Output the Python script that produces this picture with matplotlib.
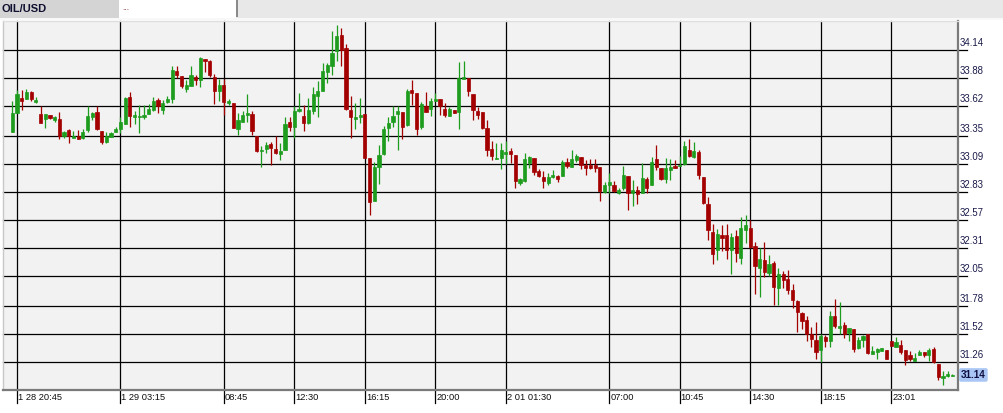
import numpy as np
import matplotlib.pyplot as plt
from matplotlib.patches import Rectangle

plt.rcParams["font.family"] = ["Liberation Sans", "DejaVu Sans"]

# ---- data: 15-minute OIL/USD candles ----
opens = [
    33.38, 33.56, 33.70, 33.69, 33.75, 33.66, 33.55, 33.50, 33.54, 33.49,
    33.50, 33.35, 33.40, 33.33, 33.35, 33.33, 33.40, 33.52, 33.57, 33.39,
    33.29, 33.34, 33.38, 33.41, 33.46, 33.71, 33.52, 33.52, 33.52, 33.55,
    33.59, 33.68, 33.59, 33.66, 33.69, 33.95, 33.90, 33.78, 33.81, 33.89,
    33.86, 34.06, 34.04, 33.89, 33.76, 33.82, 33.65, 33.65, 33.41, 33.48,
    33.54, 33.55, 33.35, 33.21, 33.23, 33.27, 33.23, 33.18, 33.22, 33.48,
    33.43, 33.58, 33.53, 33.47, 33.58, 33.72, 33.76, 33.94, 33.99, 34.13,
    34.28, 34.16, 33.59, 33.50, 33.52, 33.55, 33.14, 32.75, 33.06, 33.18,
    33.42, 33.48, 33.55, 33.57, 33.45, 33.77, 33.74, 33.43, 33.62, 33.60,
    33.67, 33.69, 33.60, 33.53, 33.59, 33.57, 33.87, 33.88, 33.73, 33.58,
    33.57, 33.42, 33.23, 33.13, 33.14, 33.18, 33.21, 33.17, 32.91, 32.93,
    33.10, 33.14, 33.02, 32.97, 32.91, 32.97, 32.98, 32.98, 33.11, 33.06,
    33.12, 33.15, 33.08, 33.08, 33.08, 33.06, 32.83, 32.89, 32.89, 32.82,
    32.87, 32.98, 32.82, 32.85, 32.82, 32.95, 32.89, 33.13, 33.05, 32.95,
    33.03, 33.07, 33.07, 33.09, 33.22, 33.15, 33.20, 32.97, 32.72, 32.46,
    32.29, 32.43, 32.43, 32.29, 32.42, 32.22, 32.48, 32.50, 32.33, 32.13,
    32.20, 32.08, 32.17, 31.94, 32.07, 32.03, 31.92, 31.82, 31.71, 31.65,
    31.52, 31.46, 31.37, 31.49, 31.45, 31.68, 31.57, 31.60, 31.53, 31.56,
    31.39, 31.46, 31.52, 31.33, 31.35, 31.36, 31.37, 31.45, 31.40, 31.42,
    31.37, 31.32, 31.27, 31.32, 31.35, 31.32, 31.38, 31.24, 31.11, 31.13,
    31.13,
]
highs = [
    33.67, 33.77, 33.77, 33.78, 33.76, 33.71, 33.62, 33.55, 33.54, 33.53,
    33.57, 33.39, 33.41, 33.39, 33.40, 33.41, 33.62, 33.57, 33.62, 33.39,
    33.38, 33.38, 33.43, 33.52, 33.71, 33.75, 33.58, 33.63, 33.63, 33.64,
    33.71, 33.70, 33.68, 33.72, 33.99, 33.99, 33.90, 33.86, 33.99, 33.91,
    34.08, 34.06, 34.05, 33.92, 33.87, 33.87, 33.69, 33.65, 33.56, 33.58,
    33.73, 33.58, 33.35, 33.25, 33.29, 33.29, 33.35, 33.28, 33.52, 33.52,
    33.62, 33.74, 33.63, 33.70, 33.80, 33.85, 34.02, 34.02, 34.32, 34.37,
    34.34, 34.20, 33.72, 33.65, 33.70, 33.55, 33.14, 33.11, 33.26, 33.44,
    33.52, 33.62, 33.62, 33.57, 33.78, 33.86, 33.74, 33.66, 33.75, 33.70,
    33.74, 33.69, 33.65, 33.61, 33.59, 34.03, 34.04, 33.88, 33.73, 33.61,
    33.57, 33.49, 33.30, 33.28, 33.28, 33.30, 33.24, 33.17, 32.96, 33.19,
    33.16, 33.14, 33.04, 33.02, 33.00, 33.03, 32.99, 33.12, 33.14, 33.22,
    33.18, 33.15, 33.12, 33.13, 33.13, 33.06, 32.92, 33.00, 32.93, 32.87,
    33.07, 32.98, 32.94, 32.88, 33.10, 32.97, 33.15, 33.26, 33.05, 33.14,
    33.13, 33.12, 33.16, 33.30, 33.32, 33.29, 33.22, 32.97, 32.78, 32.53,
    32.49, 32.52, 32.53, 32.45, 32.48, 32.60, 32.62, 32.57, 32.37, 32.31,
    32.37, 32.25, 32.19, 32.13, 32.10, 32.11, 31.98, 31.83, 31.72, 31.68,
    31.58, 31.63, 31.52, 31.51, 31.73, 31.84, 31.81, 31.63, 31.57, 31.56,
    31.49, 31.51, 31.52, 31.41, 31.39, 31.39, 31.37, 31.45, 31.49, 31.46,
    31.37, 31.36, 31.34, 31.37, 31.35, 31.39, 31.40, 31.24, 31.18, 31.18,
    31.15,
]
lows = [
    33.38, 33.56, 33.59, 33.69, 33.67, 33.65, 33.47, 33.42, 33.50, 33.48,
    33.32, 33.33, 33.28, 33.33, 33.32, 33.32, 33.38, 33.49, 33.40, 33.27,
    33.28, 33.34, 33.38, 33.37, 33.46, 33.43, 33.46, 33.37, 33.50, 33.55,
    33.58, 33.56, 33.55, 33.65, 33.65, 33.88, 33.79, 33.75, 33.81, 33.82,
    33.80, 33.94, 33.89, 33.64, 33.67, 33.54, 33.63, 33.42, 33.36, 33.48,
    33.48, 33.36, 33.20, 33.06, 33.19, 33.08, 33.18, 33.12, 33.22, 33.39,
    33.33, 33.57, 33.39, 33.46, 33.55, 33.52, 33.76, 33.84, 33.91, 34.04,
    33.99, 33.59, 33.33, 33.41, 33.47, 33.14, 32.62, 32.75, 32.90, 33.17,
    33.30, 33.43, 33.22, 33.32, 33.44, 33.63, 33.36, 33.41, 33.57, 33.53,
    33.67, 33.54, 33.52, 33.53, 33.56, 33.41, 33.87, 33.72, 33.49, 33.50,
    33.41, 33.16, 33.12, 33.13, 33.04, 33.09, 33.10, 32.87, 32.89, 32.92,
    33.05, 32.99, 32.97, 32.87, 32.89, 32.96, 32.92, 32.98, 33.05, 33.06,
    33.11, 33.04, 32.99, 33.04, 33.01, 32.75, 32.82, 32.82, 32.83, 32.81,
    32.85, 32.66, 32.70, 32.72, 32.82, 32.82, 32.89, 33.03, 32.94, 32.91,
    32.94, 33.05, 33.07, 33.08, 33.15, 33.14, 32.95, 32.72, 32.39, 32.16,
    32.20, 32.28, 32.21, 32.07, 32.18, 32.16, 32.36, 32.31, 31.89, 31.86,
    32.04, 32.05, 31.79, 31.79, 31.94, 31.89, 31.76, 31.54, 31.56, 31.45,
    31.40, 31.29, 31.26, 31.40, 31.40, 31.57, 31.52, 31.48, 31.45, 31.35,
    31.38, 31.40, 31.33, 31.33, 31.29, 31.36, 31.29, 31.41, 31.40, 31.33,
    31.23, 31.27, 31.27, 31.32, 31.31, 31.27, 31.25, 31.09, 31.05, 31.12,
    31.13,
]
closes = [
    33.56, 33.73, 33.67, 33.75, 33.69, 33.68, 33.47, 33.55, 33.51, 33.52,
    33.35, 33.38, 33.35, 33.35, 33.32, 33.38, 33.53, 33.56, 33.41, 33.29,
    33.35, 33.37, 33.41, 33.48, 33.70, 33.53, 33.54, 33.53, 33.54, 33.60,
    33.67, 33.62, 33.65, 33.69, 33.96, 33.91, 33.81, 33.82, 33.91, 33.86,
    34.07, 34.04, 33.91, 33.76, 33.82, 33.66, 33.67, 33.42, 33.49, 33.54,
    33.56, 33.39, 33.21, 33.22, 33.26, 33.24, 33.19, 33.21, 33.46, 33.43,
    33.58, 33.60, 33.47, 33.59, 33.73, 33.76, 33.95, 34.00, 34.11, 34.27,
    34.14, 33.60, 33.52, 33.52, 33.54, 33.14, 32.74, 33.06, 33.17, 33.41,
    33.47, 33.53, 33.58, 33.43, 33.76, 33.74, 33.41, 33.64, 33.57, 33.67,
    33.69, 33.62, 33.54, 33.60, 33.56, 33.88, 33.89, 33.76, 33.59, 33.54,
    33.42, 33.22, 33.16, 33.14, 33.22, 33.20, 33.18, 32.93, 32.95, 33.13,
    33.15, 33.01, 32.98, 32.93, 32.97, 32.99, 32.95, 33.11, 33.07, 33.13,
    33.16, 33.08, 33.05, 33.05, 33.05, 32.84, 32.89, 32.92, 32.84, 32.85,
    32.99, 32.82, 32.85, 32.81, 32.96, 32.87, 33.11, 33.06, 32.95, 33.05,
    33.06, 33.05, 33.08, 33.25, 33.16, 33.21, 32.99, 32.73, 32.48, 32.26,
    32.44, 32.40, 32.29, 32.41, 32.27, 32.50, 32.52, 32.32, 32.15, 32.21,
    32.09, 32.16, 31.95, 32.07, 32.02, 31.92, 31.83, 31.72, 31.64, 31.52,
    31.47, 31.35, 31.50, 31.45, 31.68, 31.59, 31.59, 31.52, 31.57, 31.38,
    31.46, 31.50, 31.34, 31.36, 31.38, 31.39, 31.29, 31.41, 31.44, 31.35,
    31.28, 31.29, 31.30, 31.35, 31.32, 31.37, 31.26, 31.12, 31.13, 31.15,
    31.14,
]

price_ticks = [34.14, 33.88, 33.62, 33.35, 33.09, 32.83, 32.57, 32.31, 32.05, 31.78, 31.52, 31.26]
time_tick_bars = [1, 23, 45, 60, 75, 90, 105, 127, 142, 157, 172, 187]
time_tick_labels = ["1 28 20:45", "1 29 03:15", "08:45", "12:30", "16:15", "20:00",
                    "2 01 01:30", "07:00", "10:45", "14:30", "18:15", "23:01"]
last_price = "31.14"

UP = "#1e9c1e"
DOWN = "#a30000"

W, H = 1004, 413
fig = plt.figure(figsize=(W / 100, H / 100), dpi=100)
fig.patch.set_facecolor("white")


def frect(x0, y0, x1, y1, color):
    # rectangle in screen pixels (top-left origin)
    fig.add_artist(Rectangle((x0 / W, 1 - y1 / H), (x1 - x0) / W, (y1 - y0) / H,
                             transform=fig.transFigure, facecolor=color,
                             edgecolor="none", zorder=0))


# ---- header strip ----
frect(0, 0, W, 19, "#e8e8e8")
frect(0, 0, 119, 18, "#d4d4d4")
frect(119, 0, 236, 18, "white")
frect(236, 0, 238, 17, "#8a8a8a")
frect(0, 18, W, 20, "#f8f8f8")
fig.text(2 / W, 1 - 11.5 / H, "OIL/USD", fontsize=8, fontweight="bold",
         color="#101030", ha="left", va="baseline")
fig.text(122 / W, 1 - 10 / H, "...", fontsize=6, color="#802020",
         ha="left", va="baseline")

# ---- price panel ----
ax = fig.add_axes([3 / W, 1 - 390 / H, 955 / W, 369 / H])
ax.set_facecolor("#f2f2f2")
ax.set_xlim(-1.98, 201.2)
ax.set_ylim(31.001, 34.408)
ax.set_xticks([])
ax.set_yticks([])
for side, col, lw in [("left", "#c8c8c8", 1), ("top", "#dedede", 1),
                      ("right", "#7a7a7a", 1.6), ("bottom", "#7a7a7a", 1.6)]:
    ax.spines[side].set_color(col)
    ax.spines[side].set_linewidth(lw)

for p in price_ticks:
    ax.plot([0, 1.0094], [p, p], transform=ax.get_yaxis_transform(),
            color="black", lw=0.9, clip_on=False, zorder=2)
    ax.annotate(f"{p:.2f}", xy=(1, p), xycoords=ax.get_yaxis_transform(),
                xytext=(2, 4), textcoords="offset pixels", ha="left",
                va="baseline", fontsize=6.9, color="#1a1a4a")

for b, lab in zip(time_tick_bars, time_tick_labels):
    ax.plot([b, b], [1, -0.035], transform=ax.get_xaxis_transform(),
            color="black", lw=0.9, clip_on=False, zorder=2)
    ax.annotate(lab, xy=(b, 0), xycoords=ax.get_xaxis_transform(),
                xytext=(1, -10), textcoords="offset pixels", ha="left",
                va="baseline", fontsize=6.7, color="#111111")

o = np.array(opens)
h = np.array(highs)
l = np.array(lows)
c = np.array(closes)
idx = np.arange(len(o))
colors = np.where(c >= o, UP, DOWN)

ax.vlines(idx, l, h, colors=colors, linewidth=0.9, zorder=3)
ax.bar(idx, np.abs(c - o), bottom=np.minimum(o, c), width=0.68,
       color=colors, edgecolor=colors, linewidth=0.5, zorder=4)

# last price tag
ax.annotate(last_price, xy=(1, c[-1]), xycoords=ax.get_yaxis_transform(),
            xytext=(3, 0), textcoords="offset pixels", ha="left", va="center",
            fontsize=7.2, fontweight="bold", color="#101040",
            bbox=dict(boxstyle="round,pad=0.18", fc="#a9c6f5", ec="none"))

fig.savefig("out.png", dpi=100)
